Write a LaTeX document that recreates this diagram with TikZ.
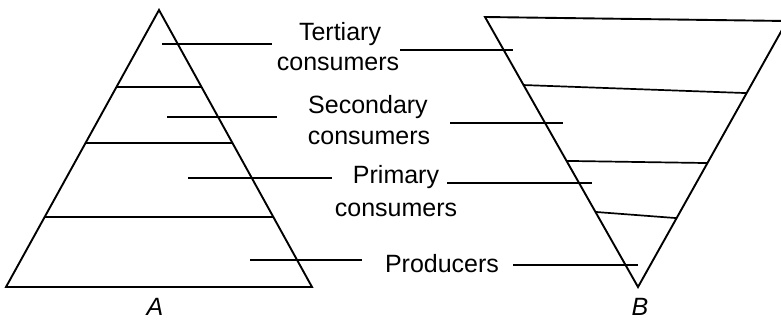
\documentclass[tikz,border=0pt]{standalone}
\usepackage{fontspec}
\setmainfont{Liberation Sans}
\usetikzlibrary{calc}
\begin{document}
\begin{tikzpicture}[x=1pt,y=-1pt,
  tri/.style={line width=1.9pt,line join=miter},
  level/.style={line width=1.7pt},
  leader/.style={line width=1.7pt},
  lbl/.style={inner sep=0pt,font=\fontsize{25}{26}\selectfont},
  tag/.style={inner sep=0pt,font=\fontsize{25}{26}\selectfont\itshape}]
\useasboundingbox (0,0) rectangle (781,324);
\clip (0,0) rectangle (781,324);
% pyramid A
\coordinate (Aa) at (159,10);
\coordinate (Al) at (6,287);
\coordinate (Ar) at (312,287);
\draw[tri] (Aa) -- (Al) -- (Ar) -- cycle;
\draw[level] ($(Aa)!0.278!(Al)$) -- ($(Aa)!0.278!(Ar)$);
\draw[level] ($(Aa)!0.480!(Al)$) -- ($(Aa)!0.480!(Ar)$);
\draw[level] ($(Aa)!0.747!(Al)$) -- ($(Aa)!0.747!(Ar)$);
% pyramid B
\coordinate (Bl) at (485,17);
\coordinate (Br) at (787,21);
\coordinate (Bb) at (638,287);
\draw[tri] (Bl) -- (Br) -- (Bb) -- cycle;
\draw[level] ($(Bl)!0.252!(Bb)$) -- ($(Br)!0.271!(Bb)$);
\draw[level] ($(Bl)!0.533!(Bb)$) -- ($(Br)!0.534!(Bb)$);
\draw[level] ($(Bl)!0.722!(Bb)$) -- ($(Br)!0.741!(Bb)$);
% labels
\node[lbl] (t1) at (340,34) {Tertiary};
\node[lbl] (t2) at (338,64) {consumers};
\node[lbl] (s1) at (368,107) {Secondary};
\node[lbl] (s2) at (369,138) {consumers};
\node[lbl] (p1) at (396,177) {Primary};
\node[lbl] (p2) at (396,210) {consumers};
\node[lbl] (pr) at (442,264) {Producers};
\node[tag] (A) at (155,307) {A};
\node[tag] (B) at (640,307) {B};
% leader lines
\coordinate (tA) at (162,44);
\coordinate (tAe) at (272,44);
\coordinate (tB) at (400,50);
\coordinate (tBe) at (513,50);
\draw[leader] (tA) -- (tAe);
\draw[leader] (tB) -- (tBe);
\coordinate (sA) at (167,117);
\coordinate (sAe) at (277,117);
\coordinate (sB) at (450,123);
\coordinate (sBe) at (563,123);
\draw[leader] (sA) -- (sAe);
\draw[leader] (sB) -- (sBe);
\coordinate (pA) at (188,178);
\coordinate (pAe) at (332,178);
\coordinate (pB) at (447,183);
\coordinate (pBe) at (592,183);
\draw[leader] (pA) -- (pAe);
\draw[leader] (pB) -- (pBe);
\coordinate (rA) at (250,260);
\coordinate (rAe) at (362,260);
\coordinate (rB) at (513,265);
\coordinate (rBe) at (638,265);
\draw[leader] (rA) -- (rAe);
\draw[leader] (rB) -- (rBe);
\end{tikzpicture}
\end{document}
